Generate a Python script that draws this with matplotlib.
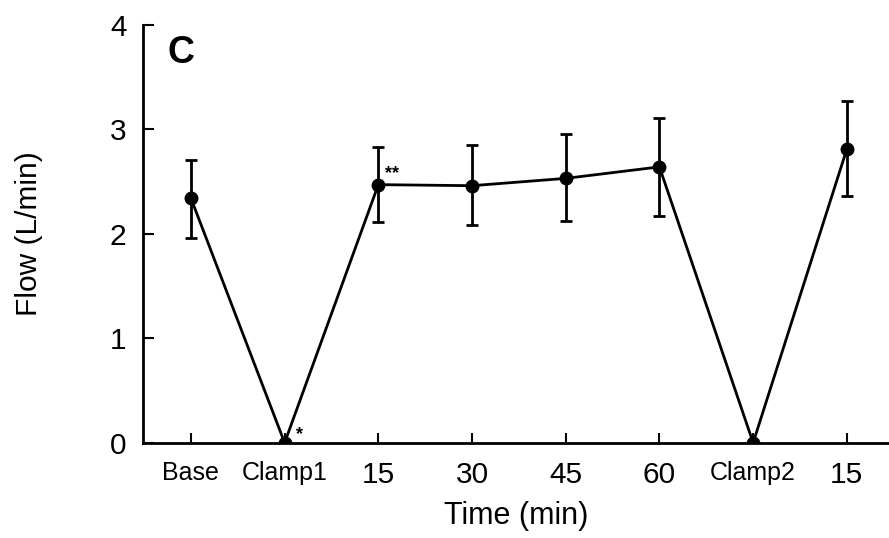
import numpy as np
import matplotlib
matplotlib.use("Agg")
import matplotlib.pyplot as plt

plt.rcParams['font.family'] = ['Liberation Sans', 'DejaVu Sans']

# data
labels = ['Base', 'Clamp1', '15', '30', '45', '60', 'Clamp2', '15']
flow = [2.34, 0.0, 2.47, 2.46, 2.53, 2.64, 0.0, 2.81]
err_low = [0.38, 0.0, 0.36, 0.38, 0.41, 0.47, 0.0, 0.45]
err_high = [0.37, 0.0, 0.36, 0.39, 0.42, 0.47, 0.0, 0.46]

x = np.arange(len(labels))

fig = plt.figure(figsize=(8.89, 5.38), dpi=100)
ax = fig.add_axes([0.161, 0.177, 0.839, 0.777])

ax.errorbar(x, flow, yerr=[err_low, err_high], color='black', lw=2,
            marker='o', ms=9, capsize=4.5, capthick=2, elinewidth=2)

ax.annotate('*', (x[1], flow[1]), xytext=(8, 0), textcoords='offset points',
            fontsize=13, fontweight='bold', ha='left', va='bottom')
ax.annotate('**', (x[2], flow[2]), xytext=(5, 2), textcoords='offset points',
            fontsize=13, fontweight='bold', ha='left', va='bottom')

ax.set_xlim(-0.51, 7.45)
ax.set_ylim(0, 4)
ax.set_yticks([0, 1, 2, 3, 4])
ax.set_xticks(x)
ax.set_xticklabels(labels)
for t, lab in zip(ax.get_xticklabels(), labels):
    t.set_fontsize(18 if lab.startswith(('B', 'C')) else 21.5)
ax.tick_params(axis='y', labelsize=21.5, direction='in', length=8, width=1.5, pad=12)
ax.tick_params(axis='x', direction='in', length=7, width=1.5, pad=13)

for s in ['top', 'right']:
    ax.spines[s].set_visible(False)
for s in ['left', 'bottom']:
    ax.spines[s].set_linewidth(2)

ax.set_ylabel('Flow (L/min)', fontsize=21.5)
ax.yaxis.set_label_coords(-0.134, 0.5)
ax.set_xlabel('Time (min)', fontsize=22, labelpad=9)
ax.text(0.033, 0.975, 'C', transform=ax.transAxes, fontsize=27,
        fontweight='bold', va='top', ha='left')

fig.savefig('out.png', dpi=100)
